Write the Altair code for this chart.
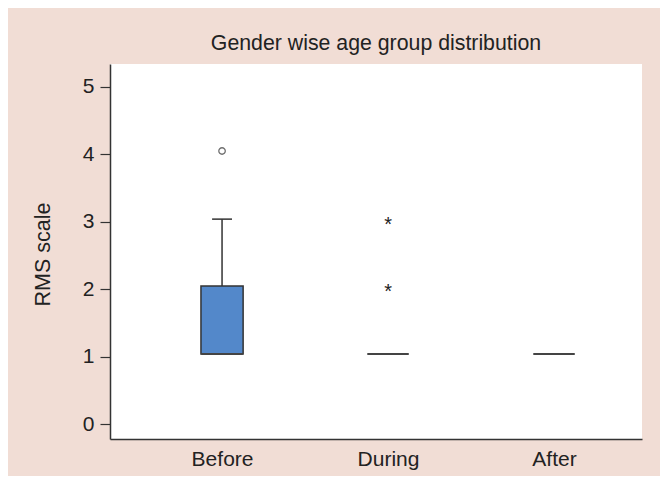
import altair as alt
import pandas as pd

# ---- data ----
categories = ["Before", "During", "After"]
positions = [1, 2, 3]
medians = [1.04, 1.04, 1.04]

box_group = ["Before"]
box_q1 = [1.04]
box_q3 = [2.05]
whisker_high = [3.04]

outlier_group = ["Before"]
outlier_value = [4.05]

extreme_group = ["During", "During"]
extreme_value = [2.04, 3.02]

y_ticks = [0, 1, 2, 3, 4, 5]

pos = dict(zip(categories, positions))

median_df = pd.DataFrame({"group": categories, "idx": positions, "median": medians})
box_df = pd.DataFrame({"group": box_group, "idx": [pos[g] for g in box_group],
                       "q1": box_q1, "q3": box_q3, "hi": whisker_high})
out_df = pd.DataFrame({"group": outlier_group, "idx": [pos[g] for g in outlier_group],
                       "value": outlier_value})
ext_df = pd.DataFrame({"group": extreme_group, "idx": [pos[g] for g in extreme_group],
                       "value": extreme_value})

FONT = "Liberation Sans"
TXT = "#222222"
AX = "#333333"

x_scale = alt.Scale(domain=[0.325, 3.53], nice=False, zero=False)
y_scale = alt.Scale(domain=[-0.22, 5.34], nice=False, zero=False)

label_expr = "[" + ",".join(f"'{c}'" for c in categories) + "][datum.value - 1]"

x_axis = alt.Axis(values=positions, labelExpr=label_expr, title=None, ticks=False,
                  grid=False, labelPadding=9, labelFontSize=21, labelFont=FONT,
                  labelColor=TXT, domainColor=AX, domainWidth=1.5)
y_axis = alt.Axis(values=y_ticks, title="RMS scale", grid=False, tickSize=10,
                  tickColor=AX, tickWidth=1.2, labelPadding=6, labelFontSize=21,
                  labelFont=FONT, labelColor=TXT, domainColor=AX, domainWidth=1.5,
                  titleFont=FONT, titleFontSize=21.5, titleFontWeight="normal",
                  titleColor=TXT, titleX=-61, titleY=190, titleBaseline="alphabetic")


def X(field):
    return alt.X(field, type="quantitative", scale=x_scale, axis=x_axis)


def Y(field):
    return alt.Y(field, type="quantitative", scale=y_scale, axis=y_axis)


box = alt.Chart(box_df).transform_calculate(
    lo="datum.idx - 0.127", hi2="datum.idx + 0.127"
).mark_rect(fill="#5388ca", stroke=AX, strokeWidth=1.5).encode(
    x=X("lo"), x2="hi2:Q", y=Y("q1"), y2="q3:Q"
)

whisker = alt.Chart(box_df).mark_rule(color=AX, strokeWidth=1.5).encode(
    x=X("idx"), y=Y("q3"), y2="hi:Q"
)

cap = alt.Chart(box_df).transform_calculate(
    lo="datum.idx - 0.06", hi2="datum.idx + 0.06"
).mark_rule(color=AX, strokeWidth=1.5).encode(
    x=X("lo"), x2="hi2:Q", y=Y("hi")
)

median = alt.Chart(median_df).transform_calculate(
    lo="datum.idx - 0.125", hi2="datum.idx + 0.125"
).mark_rule(color="#444444", strokeWidth=2).encode(
    x=X("lo"), x2="hi2:Q", y=Y("median")
)

outlier = alt.Chart(out_df).mark_point(shape="circle", filled=False, size=42,
                                       color=AX, strokeWidth=1.3).encode(
    x=X("idx"), y=Y("value")
)

extreme = alt.Chart(ext_df).mark_text(text="*", font=FONT, fontSize=20, color=TXT,
                                      baseline="alphabetic", dy=11).encode(
    x=X("idx"), y=Y("value")
)

chart = alt.layer(box, whisker, cap, median, outlier, extreme).properties(
    width=532,
    height=375,
    title=alt.TitleParams("Gender wise age group distribution", fontSize=21.3, font=FONT,
                          fontWeight="normal", color=TXT, offset=16, dy=23,
                          baseline="alphabetic", anchor="middle"),
    autosize=alt.AutoSizeParams(type="none"),
    padding={"left": 102, "top": 56, "right": 18, "bottom": 37},
).configure(background="#f1ddd5").configure_view(fill="white", strokeWidth=0)

chart.save("out.html", embed_options={"renderer": "svg", "actions": False})
